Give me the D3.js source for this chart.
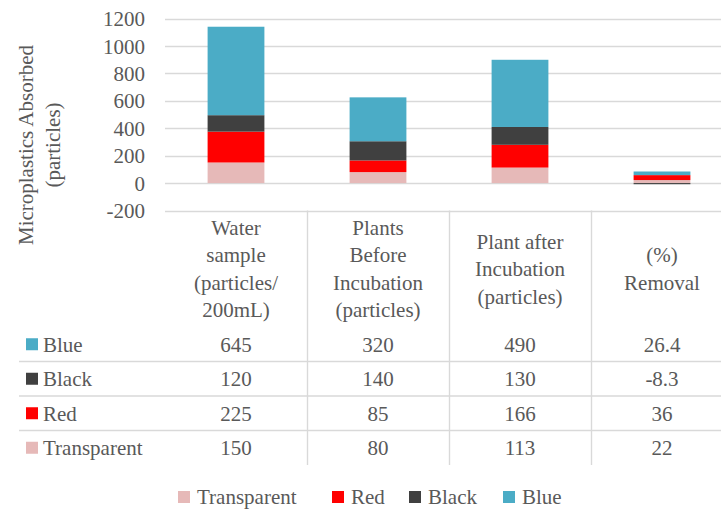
<!DOCTYPE html>
<html>
<head>
<meta charset="utf-8">
<script src="https://cdn.jsdelivr.net/npm/d3@7"></script>
<style>
  html, body { margin: 0; padding: 0; background: #fff; }
  svg { display: block; }
</style>
</head>
<body>
<svg id="chart" width="721" height="510" font-family="Liberation Serif" font-size="21" fill="#595959"></svg>
<script>
// Column categories (header lines as drawn in the data table)
const categories = ["Water sample", "Plants Before Incubation", "Plant after Incubation", "(%) Removal"];
const headerLines = [
  ["Water", "sample", "(particles/", "200mL)"],
  ["Plants", "Before", "Incubation", "(particles)"],
  ["Plant after", "Incubation", "(particles)"],
  ["(%)", "Removal"]
];

// Series values per category
const transparent = [150, 80, 113, 22];
const red = [225, 85, 166, 36];
const black = [120, 140, 130, -8.3];
const blue = [645, 320, 490, 26.4];

const seriesNames = ["Transparent", "Red", "Black", "Blue"];
const seriesColors = ["#E6B9B8", "#FF0000", "#404040", "#4BACC6"];
const yTicks = [-200, 0, 200, 400, 600, 800, 1000, 1200];

const seriesValues = [transparent, red, black, blue];
const rows = categories.map((c, i) => {
  const r = { category: c };
  seriesNames.forEach((s, k) => { r[s] = seriesValues[k][i]; });
  return r;
});

const svg = d3.select("#chart");
const textColor = "#595959";
const gridColor = "#D9D9D9";

const plotLeft = 165, plotRight = 733;
const x = d3.scaleBand().domain(categories).range([plotLeft, plotRight]).padding(0);
const y = d3.scaleLinear().domain([-200, 1200]).range([210.5, 18.5]);

// Gridlines
svg.append("g").selectAll("line").data(yTicks).join("line")
  .attr("x1", plotLeft).attr("x2", 721)
  .attr("y1", d => Math.round(y(d)) + 0.5).attr("y2", d => Math.round(y(d)) + 0.5)
  .attr("stroke", gridColor).attr("stroke-width", 1.4);

// Y axis tick labels (axis defaults for font removed so the svg's serif face applies)
const yAxis = d3.axisLeft(y).tickValues(yTicks).tickSize(0).tickPadding(0)
  .tickFormat(d => String(d));
const yg = svg.append("g").attr("transform", "translate(145,0)").call(yAxis);
yg.attr("font-family", null).attr("font-size", null);
yg.select(".domain").remove();
yg.selectAll("text").attr("fill", textColor).attr("dy", "0.34em");

// Stacked bars
const stack = d3.stack().keys(seriesNames).offset(d3.stackOffsetDiverging);
const stacked = stack(rows);
const barW = x.bandwidth() * 0.4;
svg.append("g").selectAll("g").data(stacked).join("g")
  .attr("fill", (d, i) => seriesColors[i])
  .selectAll("rect").data(d => d).join("rect")
  .attr("x", d => x(d.data.category) + (x.bandwidth() - barW) / 2)
  .attr("width", barW)
  .attr("y", d => y(Math.max(d[0], d[1])))
  .attr("height", d => Math.abs(y(d[0]) - y(d[1])));

// Y axis title
const title = svg.append("text")
  .attr("transform", "translate(33,145) rotate(-90)")
  .attr("text-anchor", "middle").attr("fill", textColor);
title.append("tspan").attr("x", 0).attr("dy", 0).text("Microplastics Absorbed");
title.append("tspan").attr("x", 0).attr("dy", 27).text("(particles)");

// Data table
const tableTop = 210.5, headerBottom = 327, rowH = 34.5;
const tableBottom = headerBottom + rowH * 4;
const tableG = svg.append("g").attr("fill", textColor);

// Vertical separators between category columns
tableG.selectAll("line.v").data(categories.slice(1)).join("line")
  .attr("class", "v")
  .attr("x1", d => Math.round(x(d)) + 0.5).attr("x2", d => Math.round(x(d)) + 0.5)
  .attr("y1", tableTop).attr("y2", tableBottom)
  .attr("stroke", gridColor).attr("stroke-width", 1.4);

// Horizontal separators between series rows
const tableRows = seriesNames.slice().reverse();
tableG.selectAll("line.h").data(d3.range(1, 4)).join("line")
  .attr("class", "h")
  .attr("x1", 19).attr("x2", 721)
  .attr("y1", d => headerBottom + d * rowH).attr("y2", d => headerBottom + d * rowH)
  .attr("stroke", gridColor).attr("stroke-width", 1.4);

// Header text
const lineH = 27.5;
const headerMid = (tableTop + headerBottom) / 2;
categories.forEach((c, i) => {
  const lines = headerLines[i];
  const cx = x(c) + x.bandwidth() / 2;
  const y0 = headerMid - (lines.length - 1) * lineH / 2;
  lines.forEach((l, j) => {
    tableG.append("text")
      .attr("x", cx).attr("y", y0 + j * lineH).attr("dy", "0.35em")
      .attr("text-anchor", "middle").text(l);
  });
});

// Row legend keys, names and values
tableRows.forEach((s, r) => {
  const k = seriesNames.indexOf(s);
  const cy = headerBottom + r * rowH + rowH / 2;
  tableG.append("rect").attr("x", 26).attr("y", cy - 6).attr("width", 12).attr("height", 12)
    .attr("fill", seriesColors[k]);
  tableG.append("text").attr("x", 43).attr("y", cy).attr("dy", "0.35em").text(s);
  categories.forEach((c, i) => {
    tableG.append("text")
      .attr("x", x(c) + x.bandwidth() / 2).attr("y", cy).attr("dy", "0.35em")
      .attr("text-anchor", "middle")
      .text(String(seriesValues[k][i]));
  });
});

// Bottom legend
const legendX = [178, 332, 409, 503];
const legendY = 497;
const legend = svg.append("g").attr("fill", textColor);
seriesNames.forEach((s, i) => {
  legend.append("rect").attr("x", legendX[i]).attr("y", legendY - 6).attr("width", 12).attr("height", 12)
    .attr("fill", seriesColors[i]);
  legend.append("text").attr("x", legendX[i] + 19).attr("y", legendY).attr("dy", "0.35em").text(s);
});
</script>
</body>
</html>
